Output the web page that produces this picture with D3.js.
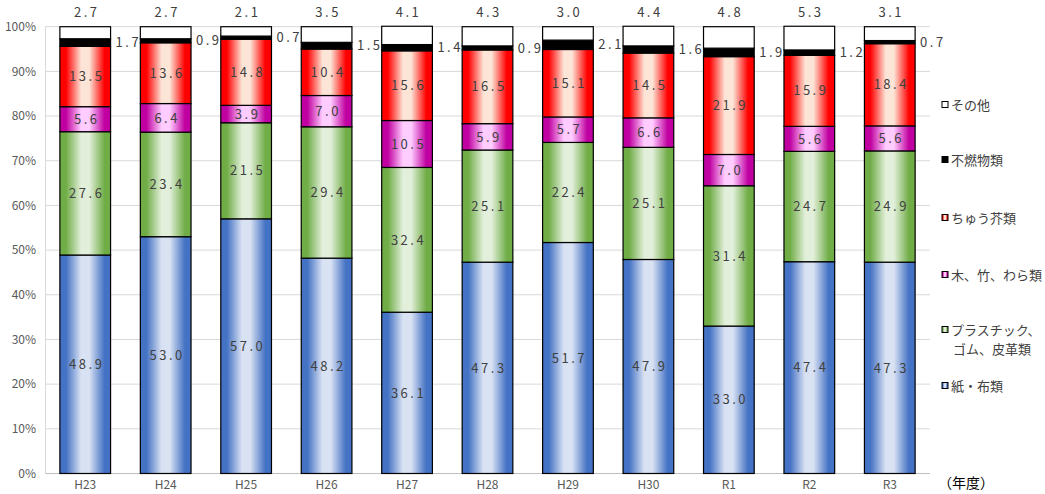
<!DOCTYPE html>
<html><head><meta charset="utf-8">
<script src="https://cdn.jsdelivr.net/npm/d3@7"></script>
<style>body{margin:0;background:#fff;}svg{display:block;}</style>
</head><body><div id="chart"></div>
<script>
const years = ["H23","H24","H25","H26","H27","H28","H29","H30","R1","R2","R3"];
const paper   = [48.9,53.0,57.0,48.2,36.1,47.3,51.7,47.9,33.0,47.4,47.3];
const plastic = [27.6,23.4,21.5,29.4,32.4,25.1,22.4,25.1,31.4,24.7,24.9];
const wood    = [5.6,6.4,3.9,7.0,10.5,5.9,5.7,6.6,7.0,5.6,5.6];
const kitchen = [13.5,13.6,14.8,10.4,15.6,16.5,15.1,14.5,21.9,15.9,18.4];
const incomb  = [1.7,0.9,0.7,1.5,1.4,0.9,2.1,1.6,1.9,1.2,0.7];
const other   = [2.7,2.7,2.1,3.5,4.1,4.3,3.0,4.4,4.8,5.3,3.1];
const seriesNames = ["紙・布類","プラスチック、ゴム、皮革類","木、竹、わら類","ちゅう芥類","不燃物類","その他"];
const legendLines = [["紙・布類"],["プラスチック、","ゴム、皮革類"],["木、竹、わら類"],["ちゅう芥類"],["不燃物類"],["その他"]];
const yTicks = [0,10,20,30,40,50,60,70,80,90,100];

const seriesVals = [paper, plastic, wood, kitchen, incomb, other];
const edgeCols = ["#4472C4","#70AD47","#C000A0","#FF0000","#000000","#FFFFFF"];
const midCols  = ["#D9E2F3","#E2EFDA","#FFCCFF","#FCE4D6","#000000","#FFFFFF"];

(function(){
const W=1045,H=494;
const svg=d3.select("#chart").append("svg").attr("width",W).attr("height",H);
const defs=svg.append("defs");
edgeCols.forEach((c,i)=>{
  const g=defs.append("linearGradient").attr("id","g"+i).attr("x1","0%").attr("x2","100%").attr("y1","0%").attr("y2","0%");
  [[0,c],[0.12,c],[0.42,midCols[i]],[0.58,midCols[i]],[0.88,c],[1,c]].forEach(s=>g.append("stop").attr("offset",s[0]).attr("stop-color",s[1]));
});

const pL=45,pR=930,pT=26.7,pB=473.5;
const x=d3.scaleBand().domain(years).range([pL,pR]).paddingInner(0.37).paddingOuter(0.185);
const y=d3.scaleLinear().domain([0,100]).range([pB,pT]);

const font="'Noto Sans CJK JP','Noto Sans',sans-serif";

svg.append("g").selectAll("line").data(yTicks).join("line")
  .attr("x1",pL).attr("x2",pR).attr("y1",d=>y(d)).attr("y2",d=>y(d))
  .attr("stroke",d=>d===0?"#BFBFBF":"#D9D9D9").attr("stroke-width",1);
svg.append("line").attr("x1",pL+0.5).attr("x2",pL+0.5).attr("y1",pT).attr("y2",pB).attr("stroke","#D9D9D9");

const yAxis=d3.axisLeft(y).tickValues(yTicks).tickFormat(d=>d+"%").tickSize(0).tickPadding(9);
const ya=svg.append("g").attr("transform",`translate(${pL},0)`).call(yAxis);
ya.select(".domain").remove();
ya.selectAll("text").attr("font-family",font).attr("font-size",12).attr("fill","#595959");

const xAxis=d3.axisBottom(x).tickSize(0).tickPadding(7);
const xa=svg.append("g").attr("transform",`translate(0,${pB})`).call(xAxis);
xa.select(".domain").remove();
xa.selectAll("text").attr("font-family",font).attr("font-size",12).attr("fill","#595959");

const table=years.map((yr,i)=>{const o={year:yr};seriesVals.forEach((s,k)=>o["s"+k]=s[i]);return o;});
const stack=d3.stack().keys(seriesVals.map((_,k)=>"s"+k))(table);

const bw=x.bandwidth();
stack.forEach((layer,k)=>{
  svg.append("g").selectAll("rect").data(layer).join("rect")
    .attr("x",d=>x(d.data.year)).attr("width",bw)
    .attr("y",d=>y(d[1])).attr("height",d=>y(d[0])-y(d[1]))
    .attr("fill","url(#g"+k+")").attr("stroke","#000").attr("stroke-width",1.2);
});

const fmt=d3.format(".1f");
const lblStyle=sel=>sel.attr("font-family",font).attr("font-size",13).attr("fill","#404040").attr("letter-spacing","2.5px");
stack.slice(0,4).forEach((layer,k)=>{
  svg.append("g").selectAll("text").data(layer).join("text")
    .attr("x",d=>x(d.data.year)+bw/2+1.5).attr("y",d=>(y(d[0])+y(d[1]))/2).attr("dy","0.36em")
    .attr("text-anchor","middle").text(d=>fmt(d[1]-d[0])).call(lblStyle);
});
svg.append("g").selectAll("text").data(stack[4]).join("text")
  .attr("x",d=>x(d.data.year)+bw+5).attr("y",d=>(y(d[0])+y(d[1]))/2).attr("dy","0.36em")
  .attr("text-anchor","start").text(d=>fmt(d[1]-d[0])).call(lblStyle);
svg.append("g").selectAll("text").data(stack[5]).join("text")
  .attr("x",d=>x(d.data.year)+bw/2+1.5).attr("y",y(100)-10)
  .attr("text-anchor","middle").text(d=>fmt(d[1]-d[0])).call(lblStyle);

const legY=[386,330,275,218,160,105];
const lg=svg.append("g");
legendLines.forEach((lines,k)=>{
  const yy=legY[k];
  lg.append("rect").attr("x",942).attr("y",yy-3.5).attr("width",6).attr("height",6)
    .attr("fill","url(#g"+k+")").attr("stroke","#000").attr("stroke-width",1);
  lines.forEach((t,j)=>{
    lg.append("text").attr("x",j===0?951:953).attr("y",yy+j*19).attr("dy","0.35em")
      .attr("font-family",font).attr("font-size",13).attr("fill","#404040").text(t);
  });
});

svg.append("text").attr("x",938).attr("y",483).attr("dy","0.35em")
  .attr("font-family",font).attr("font-size",14).attr("fill","#000").text("（年度）");
})();
</script></body></html>
